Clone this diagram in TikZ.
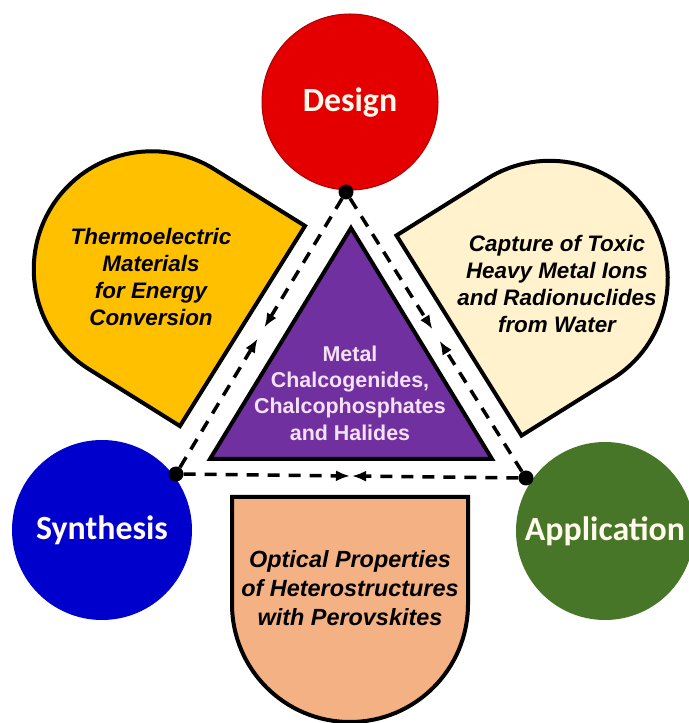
\documentclass[tikz,border=0pt]{standalone}
\usepackage{fontspec}
\setmainfont{Liberation Sans}
\newfontfamily\calibri{Carlito}
\usetikzlibrary{arrows.meta, calc}
\definecolor{designred}{RGB}{228,0,0}
\definecolor{synthblue}{RGB}{0,0,204}
\definecolor{appgreen}{RGB}{72,118,40}
\definecolor{hubtext}{RGB}{255,250,235}
\definecolor{thermo}{RGB}{255,192,0}
\definecolor{capture}{RGB}{255,242,204}
\definecolor{optical}{RGB}{244,177,131}
\definecolor{coreviolet}{RGB}{112,48,160}
\definecolor{coretext}{RGB}{245,225,245}

\begin{document}
\begin{tikzpicture}[x=1bp, y=1bp, >={Latex[length=14bp,width=11bp]},
    hub/.style={circle, inner sep=0pt, text=hubtext, font=\calibri\bfseries\fontsize{34}{40}\selectfont},
    petal/.style={draw=black, line width=4bp},
    petaltext/.style={align=center, font=\bfseries\itshape\fontsize{22.5}{27}\selectfont},
    joint/.style={circle, fill=black, inner sep=0pt, minimum size=15bp},
    flow/.style={->, line width=3.5bp, dash pattern=on 12bp off 9bp}]
    \useasboundingbox (0,0) rectangle (689,723);

    \draw[petal, fill=thermo, shift={(242.5,397)}, rotate=-122] (-118,0) -- (118,0) -- (118,-107) arc[start angle=0, end angle=-180, radius=118bp] -- cycle;
    \draw[petal, fill=capture, shift={(459,387.5)}, rotate=122] (-118,0) -- (118,0) -- (118,-107) arc[start angle=0, end angle=-180, radius=118bp] -- cycle;
    \draw[petal, fill=optical, shift={(350,226)}] (-118,0) -- (118,0) -- (118,-107) arc[start angle=0, end angle=-180, radius=118bp] -- cycle;

    \node (Thermo) [petaltext] at (151,446) {Thermoelectric\\Materials\\for Energy\\Conversion};
    \node (Capture) [petaltext] at (557,439) {Capture of Toxic\\Heavy Metal Ions\\and Radionuclides\\from Water};
    \node (Optical) [petaltext, font=\bfseries\itshape\fontsize{23.5}{29}\selectfont] at (350,135) {Optical Properties\\of Heterostructures\\with Perovskites};

    \draw[fill=coreviolet, line width=4bp] (351,495) -- (210,264) -- (492,264) -- cycle;
    \node (Core) [align=center, text=coretext, font=\bfseries\fontsize{21.5}{26.5}\selectfont] at (350,330) {Metal\\Chalcogenides,\\Chalcophosphates\\and Halides};

    \node (Design) [hub, fill=designred, draw=designred!75!black, line width=1bp, minimum size=176bp] at (350,621) {Design};
    \node (Synthesis) [hub, fill=synthblue, minimum size=180bp] at (102,193) {Synthesis};
    \node (Application) [hub, fill=appgreen, minimum size=178bp] at (605,192) {Application};

    \node (dDesign) [joint] at (346,531) {};
    \node (dSynthesis) [joint] at (176,249) {};
    \node (dApplication) [joint] at (526,245) {};

    \coordinate (ds1) at ($(dDesign)!0.48!(dSynthesis)$);
    \coordinate (ds2) at ($(dDesign)!0.52!(dSynthesis)$);
    \coordinate (da1) at ($(dDesign)!0.48!(dApplication)$);
    \coordinate (da2) at ($(dDesign)!0.52!(dApplication)$);
    \coordinate (sa1) at ($(dSynthesis)!0.497!(dApplication)$);
    \coordinate (sa2) at ($(dSynthesis)!0.503!(dApplication)$);

    \draw[flow] (dDesign) -- (ds1);
    \draw[flow] (dSynthesis) -- (ds2);
    \draw[flow] (dDesign) -- (da1);
    \draw[flow] (dApplication) -- (da2);
    \draw[flow] (dSynthesis) -- (sa1);
    \draw[flow] (dApplication) -- (sa2);
\end{tikzpicture}
\end{document}
